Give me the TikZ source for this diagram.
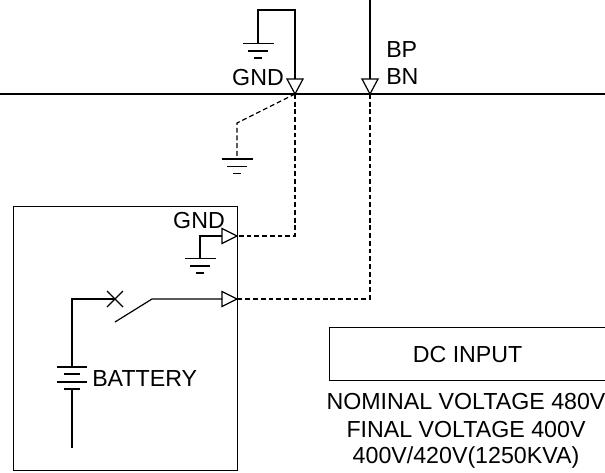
\documentclass[tikz,border=0pt]{standalone}
\usepackage{fontspec}
\setmainfont{Liberation Sans}
\tikzset{
  wire/.style={draw, line width=0.9pt},
  dashwire/.style={draw, line width=0.9pt, dash pattern=on 3.6pt off 2.2pt},
  lbl/.style={font=\fontsize{17.4}{20}\selectfont, inner sep=0pt},
  gndsym/.pic={
    \draw[line width=0.9pt] (-15.5,0) -- (15.5,0);
    \draw[line width=0.9pt] (-10,7.5) -- (10,7.5);
    \draw[line width=0.9pt] (-4,14.5) -- (4,14.5);
  },
  tridown/.pic={
    \draw[line width=0.9pt, fill=white] (0,0) -- (-8,-15) -- (8,-15) -- cycle;
  },
  triright/.pic={
    \draw[line width=0.9pt, fill=white] (0,0) -- (-15,-7.5) -- (-15,7.5) -- cycle;
  }
}
\begin{document}
\begin{tikzpicture}[x=0.75pt, y=-0.75pt]
  \useasboundingbox (0,0) rectangle (605,472);

  % bus and feeders
  \coordinate (busL) at (0,94);
  \coordinate (busR) at (605,94);
  \coordinate (gndTap) at (295,94);
  \coordinate (bnTap) at (370,94);
  \coordinate (bpTop) at (370,0);
  \coordinate (gndTop) at (295,10);
  \coordinate (gndTopL) at (258,10);
  \coordinate (gndA) at (258,43.5);
  \coordinate (bend) at (237,123);
  \coordinate (gndB) at (237,159);
  \coordinate (gndPort) at (237,236);
  \coordinate (batPort) at (237,299);
  \coordinate (gndPortL) at (200,236);
  \coordinate (gndC) at (200,258.5);
  \coordinate (gndDrop) at (295,236);
  \coordinate (batDrop) at (370,299);

  \draw[wire] (busL) -- (busR);
  \draw[wire] (gndTap) -- (gndTop) -- (gndTopL) -- (gndA);
  \draw[wire] (bpTop) -- (bnTap);
  \draw[dashwire] (gndTap) -- (bend) -- (gndB);
  \draw[dashwire] (gndTap) -- (gndDrop) -- (gndPort);
  \draw[dashwire] (bnTap) -- (batDrop) -- (batPort);
  \draw[wire] (gndPort) -- (gndPortL) -- (gndC);

  \pic at (gndTap) {tridown};
  \pic at (bnTap) {tridown};
  \pic at (gndPort) {triright};
  \pic at (batPort) {triright};
  \pic at (gndA) {gndsym};
  \pic at (gndB) {gndsym};
  \pic at (gndC) {gndsym};

  % battery box
  \node[wire, minimum width=168pt, minimum height=198pt, inner sep=0pt, anchor=north west] (batBox) at (13,206) {};
  \coordinate (swOut) at (152,299);
  \coordinate (swTip) at (115,322);
  \coordinate (swIn) at (115,299);
  \coordinate (batTop) at (72,299);
  \coordinate (cellA) at (72,367);
  \coordinate (cellB) at (72,389);
  \coordinate (batEnd) at (72,448);

  \draw[wire] (batPort) ++(-15,0) -- (swOut) -- (swTip);
  \draw[wire] (swIn) -- (batTop) -- (cellA);
  \draw[wire] (107,291) -- (123,307);
  \draw[wire] (107,307) -- (123,291);
  \draw[wire] (57,367) -- (87,367);
  \draw[wire] (64,374) -- (80,374);
  \draw[wire] (57,382) -- (87,382);
  \draw[wire] (64,389) -- (80,389);
  \draw[wire] (cellB) -- (batEnd);

  % labels
  \node[lbl] (gndTopLbl) at (258,78) {GND};
  \node[lbl, anchor=west] (bpLbl) at (386,50) {BP};
  \node[lbl, anchor=west] (bnLbl) at (386,77) {BN};
  \node[lbl] (gndBoxLbl) at (199,221) {GND};
  \node[lbl, anchor=west] (batLbl) at (92,379) {BATTERY};

  % rating panel
  \node[wire, lbl, minimum width=207pt, minimum height=39.75pt, anchor=north west] (dcBox) at (329,327) {DC INPUT};
  \node[lbl] (nomLbl) at (466,401) {NOMINAL VOLTAGE 480V};
  \node[lbl] (finLbl) at (466,429) {FINAL VOLTAGE 400V};
  \node[lbl] (kvaLbl) at (466,457) {400V/420V(1250KVA)};
\end{tikzpicture}
\end{document}
